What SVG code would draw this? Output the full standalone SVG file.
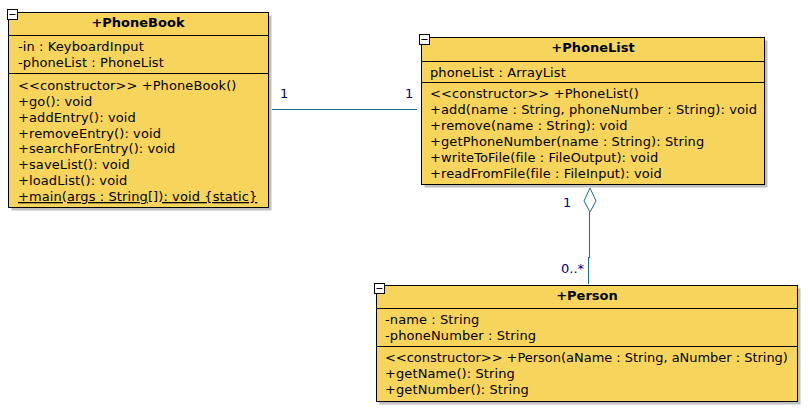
<svg xmlns="http://www.w3.org/2000/svg" width="809" height="414" viewBox="0 0 809 414">
  <style>
    .shadow { fill: #c0c0c0; }
    .box { fill: #f7d55c; stroke: #000; stroke-width: 1; }
    .sep { stroke: #000; stroke-width: 1; }
    .txt { font-family: "DejaVu Sans", Verdana, sans-serif; font-size: 13px; letter-spacing: 0.1px; fill: #000; }
    .title { font-family: "DejaVu Sans", Verdana, sans-serif; font-size: 13px; font-weight: bold; fill: #000; text-anchor: middle; }
    .toggle { fill: #fff; stroke: #000; stroke-width: 1; }
    .edge { stroke: #1b6e8e; stroke-width: 1; fill: none; }
    .mult { font-family: "DejaVu Sans", Verdana, sans-serif; font-size: 13px; fill: #000080; }
  </style>

  <!-- PhoneBook class -->
  <g id="PhoneBook">
    <rect class="shadow" x="11.5" y="15.5" width="260" height="195"/>
    <rect class="box" x="8.5" y="12.5" width="260" height="195"/>
    <line class="sep" x1="8.5" y1="35.5" x2="268.5" y2="35.5"/>
    <line class="sep" x1="8.5" y1="73.5" x2="268.5" y2="73.5"/>
    <rect class="toggle" x="7.5" y="9.5" width="10" height="10"/>
    <line class="sep" x1="9.5" y1="14.5" x2="15.5" y2="14.5"/>
    <text class="title" x="138" y="27">+PhoneBook</text>
    <text class="txt" x="18" y="51">-in : KeyboardInput</text>
    <text class="txt" x="18" y="67">-phoneList : PhoneList</text>
    <text class="txt" x="18" y="90">&lt;&lt;constructor&gt;&gt; +PhoneBook()</text>
    <text class="txt" x="18" y="106">+go(): void</text>
    <text class="txt" x="18" y="122">+addEntry(): void</text>
    <text class="txt" x="18" y="138">+removeEntry(): void</text>
    <text class="txt" x="18" y="153">+searchForEntry(): void</text>
    <text class="txt" x="18" y="169">+saveList(): void</text>
    <text class="txt" x="18" y="185">+loadList(): void</text>
    <text class="txt" x="18" y="201" text-decoration="underline">+main(args : String[]): void {static}</text>
  </g>

  <!-- PhoneList class -->
  <g id="PhoneList">
    <rect class="shadow" x="424.5" y="40.5" width="343" height="147"/>
    <rect class="box" x="421.5" y="37.5" width="343" height="147"/>
    <line class="sep" x1="421.5" y1="61.5" x2="764.5" y2="61.5"/>
    <line class="sep" x1="421.5" y1="82.5" x2="764.5" y2="82.5"/>
    <rect class="toggle" x="419.5" y="34.5" width="10" height="10"/>
    <line class="sep" x1="421.5" y1="39.5" x2="427.5" y2="39.5"/>
    <text class="title" x="593" y="52">+PhoneList</text>
    <text class="txt" x="430" y="77">phoneList : ArrayList</text>
    <text class="txt" x="430" y="98">&lt;&lt;constructor&gt;&gt; +PhoneList()</text>
    <text class="txt" x="430" y="114">+add(name : String, phoneNumber : String): void</text>
    <text class="txt" x="430" y="130">+remove(name : String): void</text>
    <text class="txt" x="430" y="146">+getPhoneNumber(name : String): String</text>
    <text class="txt" x="430" y="162">+writeToFile(file : FileOutput): void</text>
    <text class="txt" x="430" y="178">+readFromFile(file : FileInput): void</text>
  </g>

  <!-- Person class -->
  <g id="Person">
    <rect class="shadow" x="379.5" y="288.5" width="421" height="116"/>
    <rect class="box" x="376.5" y="285.5" width="421" height="116"/>
    <line class="sep" x1="376.5" y1="308.5" x2="797.5" y2="308.5"/>
    <line class="sep" x1="376.5" y1="346.5" x2="797.5" y2="346.5"/>
    <rect class="toggle" x="374.5" y="283.5" width="10" height="10"/>
    <line class="sep" x1="376.5" y1="288.5" x2="382.5" y2="288.5"/>
    <text class="title" x="587" y="300">+Person</text>
    <text class="txt" x="385" y="324">-name : String</text>
    <text class="txt" x="385" y="340">-phoneNumber : String</text>
    <text class="txt" x="385" y="362" textLength="403" lengthAdjust="spacing">&lt;&lt;constructor&gt;&gt; +Person(aName : String, aNumber : String)</text>
    <text class="txt" x="385" y="378">+getName(): String</text>
    <text class="txt" x="385" y="394">+getNumber(): String</text>
  </g>

  <!-- Associations -->
  <g id="connectors">
    <g id="PhoneBook-PhoneList">
      <line class="edge" x1="272" y1="109.5" x2="417" y2="109.5"/>
      <text class="mult" x="280" y="98">1</text>
      <text class="mult" x="405" y="98">1</text>
    </g>
    <g id="PhoneList-Person">
      <path class="edge" d="M590 188 L596 201 L590 212 L584 201 Z"/>
      <path class="edge" d="M589.5 212 V258 M588.5 257 V284"/>
      <text class="mult" x="563" y="207">1</text>
      <text class="mult" x="561" y="273">0..*</text>
    </g>
  </g>
</svg>
